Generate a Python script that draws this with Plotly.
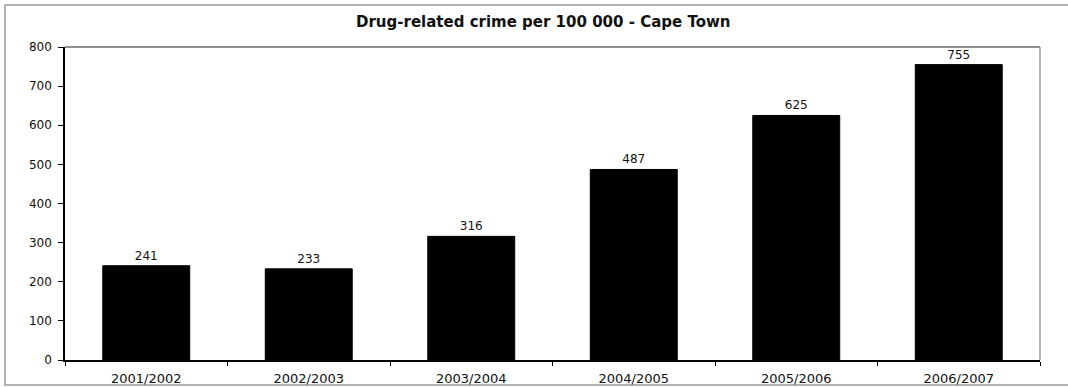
import plotly.graph_objects as go

# Drug-related crime per 100 000 residents, Cape Town
periods = ["2001/2002", "2002/2003", "2003/2004", "2004/2005", "2005/2006", "2006/2007"]
crime_rate = [241, 233, 316, 487, 625, 755]
y_ticks = [0, 100, 200, 300, 400, 500, 600, 700, 800]

W, H = 1068, 387
ML, MR, MT, MB = 65, 28, 47, 27
pw = W - ML - MR
ph = H - MT - MB

font_main = "DejaVu Sans"
text_color = "#111"

fig = go.Figure(
    go.Bar(
        x=periods,
        y=crime_rate,
        marker=dict(color="black", line=dict(color="black", width=1)),
        text=[str(v) for v in crime_rate],
        textposition="outside",
        textfont=dict(family=font_main, size=12, color=text_color),
        cliponaxis=False,
        width=0.535,
    )
)

fig.update_layout(
    width=W,
    height=H,
    margin=dict(l=ML, r=MR, t=MT, b=MB),
    paper_bgcolor="white",
    plot_bgcolor="white",
    showlegend=False,
    font=dict(family=font_main, size=12, color=text_color),
)

fig.update_xaxes(
    automargin=False,
    showline=True,
    linecolor="black",
    linewidth=1.5,
    ticks="outside",
    ticklen=4,
    tickcolor="black",
    tickson="boundaries",
    showgrid=False,
    ticklabelstandoff=6,
    tickfont=dict(family=font_main, size=13, color=text_color),
)
fig.update_yaxes(
    automargin=False,
    range=[0, 800],
    tickvals=y_ticks,
    showline=True,
    linecolor="black",
    linewidth=1.5,
    ticks="outside",
    ticklen=5,
    tickcolor="black",
    showgrid=False,
    zeroline=False,
    ticklabelstandoff=4,
    tickfont=dict(family=font_main, size=12, color=text_color),
)

# Title
fig.add_annotation(
    text="<b>Drug-related crime per 100 000 - Cape Town</b>",
    xref="paper", yref="paper",
    x=(543 - ML) / pw, y=1 + (MT - 22) / ph,
    xanchor="center", yanchor="middle",
    showarrow=False,
    font=dict(family=font_main, size=15, color=text_color),
)

# Plot area border (top and right)
fig.add_shape(type="line", xref="paper", yref="paper", x0=0, x1=1, y0=1, y1=1,
              line=dict(color="#222", width=1.2))
fig.add_shape(type="line", xref="paper", yref="paper", x0=1, x1=1, y0=0, y1=1,
              line=dict(color="#888", width=1.2))

# Outer chart frame
fig.add_shape(
    type="rect", xref="paper", yref="paper",
    x0=(5 - ML) / pw, x1=(W + 5 - ML) / pw,
    y0=-(385 - (MT + ph)) / ph, y1=1 + (MT - 5) / ph,
    line=dict(color="#999", width=1.5),
    layer="below",
)

fig.write_html("out.html")
